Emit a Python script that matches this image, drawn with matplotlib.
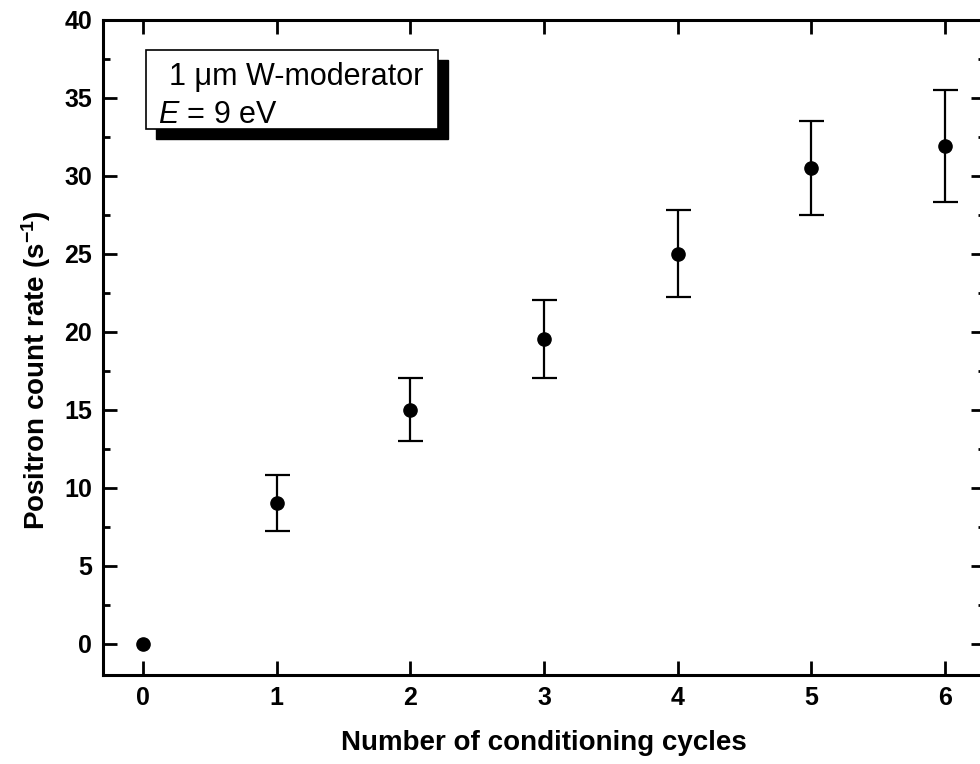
import matplotlib
matplotlib.use("Agg")
import matplotlib.pyplot as plt
from matplotlib.patches import Rectangle
from matplotlib.ticker import MultipleLocator

# data
cycles = [0, 1, 2, 3, 4, 5, 6]
rate = [0.0, 9.0, 15.0, 19.5, 25.0, 30.5, 31.9]
err = [0.0, 1.8, 2.0, 2.5, 2.8, 3.0, 3.6]

plt.rcParams['font.family'] = ['Liberation Sans', 'DejaVu Sans']
plt.rcParams['mathtext.fontset'] = 'custom'
plt.rcParams['mathtext.rm'] = 'Liberation Sans'
plt.rcParams['mathtext.it'] = 'Liberation Sans:italic'
plt.rcParams['mathtext.bf'] = 'Liberation Sans:bold'

W, H = 980, 764
fig = plt.figure(figsize=(W / 100, H / 100), dpi=100)
# axes in pixels: left 103, right 985 (runs just past the picture), top 19.5, bottom 675
ax = fig.add_axes([103 / W, (H - 675) / H, (985 - 103) / W, (675 - 19.5) / H])

# the first point has no error bar
xe = [c for c, e in zip(cycles, err) if e > 0]
ye = [r for r, e in zip(rate, err) if e > 0]
ee = [e for e in err if e > 0]
ax.errorbar(xe, ye, yerr=ee, fmt='none', ecolor='black',
            elinewidth=1.6, capsize=9, capthick=1.6)
ax.plot(cycles, rate, 'o', color='black', ms=9.5)

ax.set_xlim(-0.3, 6.3)
ax.set_ylim(-2, 40)
ax.xaxis.set_major_locator(MultipleLocator(1))
ax.yaxis.set_major_locator(MultipleLocator(5))
ax.yaxis.set_minor_locator(MultipleLocator(2.5))

for s in ax.spines.values():
    s.set_linewidth(2.2)
ax.tick_params(which='both', direction='in', width=2, top=True, right=True,
               labelsize=18)
ax.tick_params(axis='x', pad=8)
ax.tick_params(axis='y', pad=8)
ax.tick_params(which='major', length=10)
ax.tick_params(which='minor', length=5)
for lab in ax.get_xticklabels() + ax.get_yticklabels():
    lab.set_fontweight('bold')

ax.set_xlabel('Number of conditioning cycles', fontsize=20, fontweight='bold', labelpad=14)
ax.set_ylabel(r'Positron count rate (s$^{\mathbf{-1}}$)', fontsize=20, fontweight='bold', labelpad=8)
ax.yaxis.label.set_y(0.465)

# text box with drop shadow
bx, by, bw, bh = 146, 50, 292, 79
off = 10
fig.patches.append(Rectangle(((bx + off) / W, (H - by - bh - off) / H), bw / W, bh / H,
                             transform=fig.transFigure, facecolor='black', edgecolor='black',
                             zorder=5))
fig.patches.append(Rectangle((bx / W, (H - by - bh) / H), bw / W, bh / H,
                             transform=fig.transFigure, facecolor='white', edgecolor='black',
                             linewidth=1.2, zorder=6))
fig.text(169 / W, (H - 85) / H, '1 \u03bcm W-moderator', fontsize=22, va='baseline', zorder=7)
fig.text(158 / W, (H - 123) / H, r'$\mathit{E}$ = 9 eV', fontsize=22, va='baseline', zorder=7)

fig.savefig('out.png', dpi=100)
